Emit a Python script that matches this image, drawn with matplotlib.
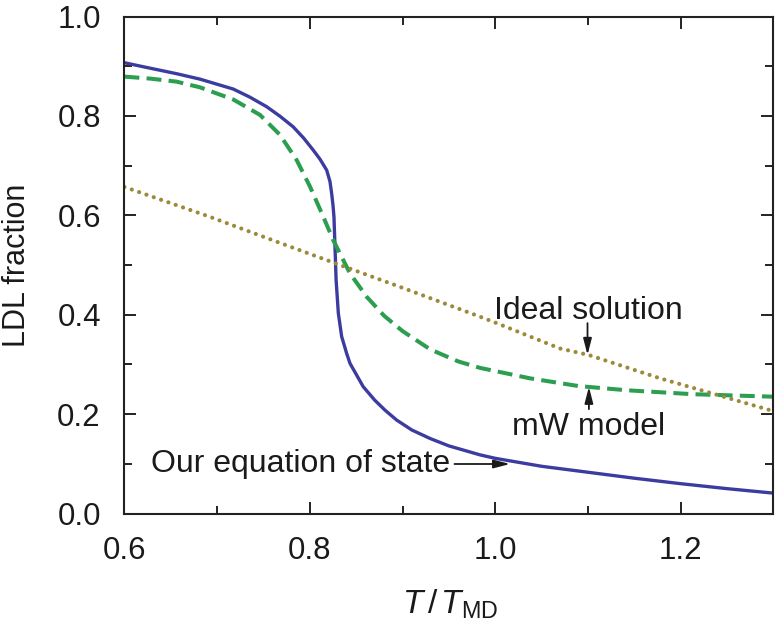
import matplotlib
matplotlib.use("Agg")
import matplotlib.pyplot as plt
from matplotlib.ticker import MultipleLocator

plt.rcParams['font.family'] = ['Liberation Sans', 'DejaVu Sans']
plt.rcParams['mathtext.fontset'] = 'custom'
plt.rcParams['mathtext.rm'] = 'Liberation Sans'
plt.rcParams['mathtext.it'] = 'Liberation Sans:italic'

# Our equation of state
eos_x = [0.600, 0.620, 0.656, 0.6814, 0.7174, 0.735, 0.7534, 0.768, 0.782, 0.793,
         0.8037, 0.8109, 0.8181, 0.8217, 0.8235, 0.8249, 0.826, 0.8271, 0.8283,
         0.8307, 0.8343, 0.8397, 0.8433, 0.8576, 0.870, 0.881, 0.8936, 0.910,
         0.9296, 0.950, 0.9835, 1.000, 1.050, 1.100, 1.150, 1.200, 1.250, 1.300]
eos_y = [0.907, 0.899, 0.885, 0.874, 0.854, 0.838, 0.8185, 0.799, 0.778, 0.756,
         0.731, 0.713, 0.691, 0.668, 0.644, 0.621, 0.597, 0.537, 0.470,
         0.403, 0.356, 0.322, 0.302, 0.255, 0.228, 0.208, 0.188, 0.168,
         0.151, 0.136, 0.118, 0.111, 0.095, 0.083, 0.071, 0.060, 0.050, 0.041]

# mW model
mw_x = [0.600, 0.628, 0.656, 0.6814, 0.7174, 0.7462, 0.7677, 0.7858, 0.8001, 0.8145,
        0.8252, 0.8433, 0.8613, 0.880, 0.900, 0.930, 0.960, 0.9835, 1.0374,
        1.0895, 1.1417, 1.2136, 1.300]
mw_y = [0.879, 0.875, 0.869, 0.8575, 0.833, 0.802, 0.762, 0.711, 0.658, 0.597,
        0.550, 0.483, 0.436, 0.398, 0.367, 0.330, 0.306, 0.293, 0.272,
        0.2565, 0.248, 0.240, 0.235]

# Ideal solution
ideal_x = [0.600, 0.692, 0.764, 0.8325, 0.8972, 0.9835, 1.0015, 1.0698, 1.1007, 1.1777, 1.300]
ideal_y = [0.657, 0.597, 0.547, 0.500, 0.456, 0.396, 0.383, 0.332, 0.319, 0.272, 0.206]

fig = plt.figure(figsize=(7.75, 6.25), dpi=100)
ax = fig.add_axes([0.1606, 0.1784, 0.8373, 0.7952])

ax.plot(eos_x, eos_y, color='#3c3ca0', lw=2.4, solid_joinstyle='round')
ax.plot(mw_x, mw_y, color='#2b9e50', lw=2.9, dashes=(3.7, 1.8))
ax.plot(ideal_x, ideal_y, color='#9b8a3a', lw=3.0, linestyle=(0, (0.01, 1.85)),
        dash_capstyle='round')

ax.set_xlim(0.6, 1.3)
ax.set_ylim(0.0, 1.0)
ax.xaxis.set_minor_locator(MultipleLocator(0.1))
ax.yaxis.set_minor_locator(MultipleLocator(0.1))
ax.set_xticks([0.6, 0.8, 1.0, 1.2])
ax.set_xticklabels(['0.6', '0.8', '1.0', '1.2'])
ax.set_yticks([0.0, 0.2, 0.4, 0.6, 0.8, 1.0])
ax.set_yticklabels(['0.0', '0.2', '0.4', '0.6', '0.8', '1.0'])
ax.tick_params(which='both', direction='in', top=True, right=True,
               width=1.4, color='#222222')
ax.tick_params(which='major', length=8.6)
ax.tick_params(which='minor', length=5.6)
ax.tick_params(axis='x', which='major', labelsize=22.5, pad=16, labelcolor='#1a1a1a')
ax.tick_params(axis='y', which='major', labelsize=22.5, pad=17, labelcolor='#1a1a1a')
for s in ax.spines.values():
    s.set_linewidth(1.5)
    s.set_color('#222222')

ax.set_xlabel(r'$T\,/\,T_{\mathrm{MD}}$', fontsize=24, color='#1a1a1a')
ax.xaxis.set_label_coords(0.5016, -0.150)
ax.set_ylabel('LDL fraction', fontsize=22, color='#1a1a1a')
ax.yaxis.set_label_coords(-0.142, 0.5)

arrow = dict(arrowstyle='-|>,head_length=0.7,head_width=0.18', color='#1a1a1a', lw=1.3,
             shrinkA=0, shrinkB=0, mutation_scale=14)
ax.text(1.1006, 0.391, 'Ideal solution', fontsize=23, ha='center', va='baseline', color='#1a1a1a')
ax.annotate('', xy=(1.0995, 0.319), xytext=(1.0995, 0.383), arrowprops=arrow)
ax.text(1.101, 0.158, 'mW model', fontsize=23, ha='center', va='baseline', color='#1a1a1a')
ax.annotate('', xy=(1.101, 0.255), xytext=(1.101, 0.210), arrowprops=arrow)
ax.text(0.9511, 0.084, 'Our equation of state', fontsize=23, ha='right', va='baseline', color='#1a1a1a')
ax.annotate('', xy=(1.016, 0.0996), xytext=(0.956, 0.0996), arrowprops=arrow)

fig.savefig('out.png', dpi=100)
